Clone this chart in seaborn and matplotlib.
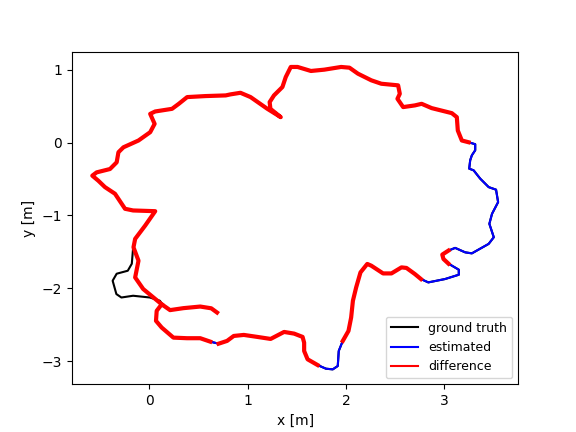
import matplotlib
matplotlib.use("Agg")
import matplotlib.pyplot as plt
import seaborn as sns
import numpy as np

# estimated trajectory waypoints [m]
est_x = [0.689, 0.630, 0.518, 0.347, 0.211, 0.126, 0.075, 0.068, 0.126, 0.245,
         0.382, 0.518, 0.620, 0.705, 0.791, 0.859, 0.961, 1.098, 1.234, 1.371,
         1.473, 1.559, 1.575, 1.575, 1.610, 1.712, 1.797, 1.866, 1.917, 1.927,
         1.968, 2.026, 2.053, 2.071, 2.104, 2.148, 2.217, 2.258, 2.378, 2.463,
         2.565, 2.616, 2.701, 2.763, 2.838, 3.008, 3.148, 3.148, 3.043, 2.992,
         2.980, 3.043, 3.111, 3.213, 3.281, 3.452, 3.504, 3.459, 3.486, 3.548,
         3.527, 3.452, 3.366, 3.299, 3.254, 3.264, 3.281, 3.315, 3.315, 3.248,
         3.179, 3.138, 3.128, 3.077, 2.872, 2.770, 2.701, 2.582, 2.524, 2.548,
         2.531, 2.360, 2.258, 2.122, 2.036, 1.951, 1.780, 1.644, 1.508, 1.439,
         1.388, 1.354, 1.268, 1.224, 1.232, 1.337, 1.201, 1.030, 0.927, 0.825,
         0.777, 0.572, 0.385, 0.300, 0.231, 0.060, 0.009, 0.054, 0.009, -0.110,
         -0.263, -0.314, -0.332, -0.400, -0.536, -0.580, -0.519, -0.451, -0.349, -0.247,
         -0.165, 0.060, -0.042, -0.144, -0.161, -0.110, -0.144, -0.062, 0.126]
est_y = [-2.330, -2.272, -2.248, -2.270, -2.297, -2.217, -2.307, -2.444, -2.536, -2.674,
         -2.682, -2.682, -2.729, -2.757, -2.719, -2.651, -2.637, -2.664, -2.692, -2.596,
         -2.619, -2.664, -2.743, -2.857, -2.971, -3.050, -3.100, -3.109, -3.063, -2.857,
         -2.719, -2.582, -2.399, -2.169, -1.986, -1.780, -1.664, -1.688, -1.794, -1.794,
         -1.711, -1.719, -1.802, -1.871, -1.917, -1.871, -1.812, -1.743, -1.660, -1.596,
         -1.536, -1.481, -1.444, -1.505, -1.519, -1.389, -1.298, -1.114, -0.977, -0.817,
         -0.646, -0.611, -0.495, -0.381, -0.358, -0.243, -0.175, -0.106, -0.023, 0.004,
         0.028, 0.165, 0.348, 0.403, 0.472, 0.531, 0.509, 0.486, 0.600, 0.668,
         0.784, 0.806, 0.853, 0.944, 1.026, 1.036, 0.999, 0.981, 1.036, 1.036,
         0.898, 0.761, 0.646, 0.554, 0.462, 0.348, 0.462, 0.623, 0.682, 0.660,
         0.646, 0.637, 0.623, 0.531, 0.462, 0.426, 0.393, 0.256, 0.142, 0.028,
         -0.065, -0.133, -0.271, -0.363, -0.409, -0.454, -0.523, -0.611, -0.702, -0.908,
         -0.931, -0.941, -1.138, -1.320, -1.436, -1.619, -1.849, -2.008, -2.217]

# ground truth part that is not covered by the estimate
gt_x = [-0.163, -0.178, -0.219, -0.332, -0.373, -0.335, -0.284, -0.165, 0.006, 0.108, 0.142]
gt_y = [-1.413, -1.661, -1.757, -1.798, -1.894, -2.077, -2.124, -2.100, -2.124, -2.169, -2.238]

# waypoint index ranges where the difference lines are drawn
diff_spans = [(0, 12), (13, 25), (30, 43), (48, 51), (69, 128)]

fig, ax = plt.subplots(figsize=(5.76, 4.32), dpi=100)

sns.lineplot(x=est_x, y=est_y, sort=False, estimator=None, color='black',
             linewidth=1.5, ax=ax, label='ground truth')
sns.lineplot(x=gt_x, y=gt_y, sort=False, estimator=None, color='black',
             linewidth=1.5, ax=ax)
sns.lineplot(x=est_x, y=est_y, sort=False, estimator=None, color='blue',
             linewidth=1.5, ax=ax, label='estimated')
for k, (a, b) in enumerate(diff_spans):
    sns.lineplot(x=est_x[a:b + 1], y=est_y[a:b + 1], sort=False, estimator=None,
                 color='red', linewidth=3.0, ax=ax,
                 label='difference' if k == 0 else None)

leg = ax.legend(loc='lower right', fontsize=9, handlelength=2.2)
for line in leg.get_lines():
    line.set_linewidth(1.5)

ax.set_xlabel('x [m]')
ax.set_ylabel('y [m]')

plt.savefig('out.png', dpi=100)
plt.close()
